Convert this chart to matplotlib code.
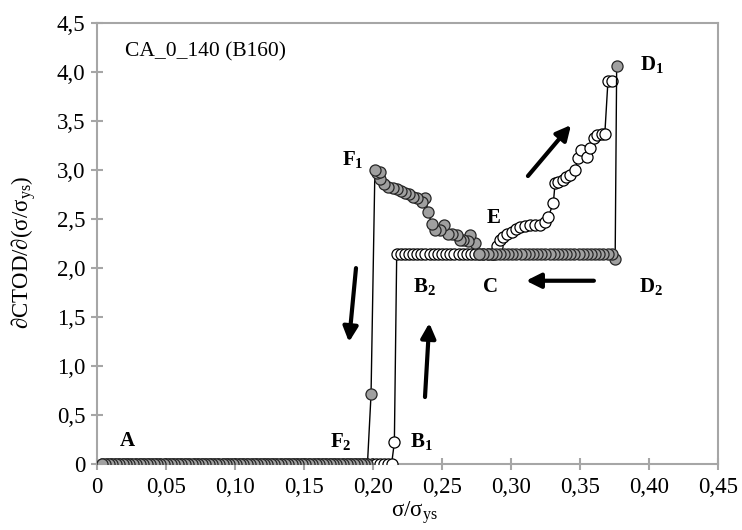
import matplotlib
matplotlib.use("Agg")
import matplotlib.pyplot as plt
from matplotlib.ticker import FuncFormatter, MultipleLocator

plt.rcParams['font.family'] = ['Liberation Serif', 'DejaVu Serif']
plt.rcParams['mathtext.fontset'] = 'custom'
plt.rcParams['mathtext.rm'] = 'Liberation Serif'
plt.rcParams['mathtext.it'] = 'Liberation Serif:italic'
plt.rcParams['mathtext.bf'] = 'Liberation Serif:bold'

# loading branch (open circles): A -> B1 -> B2 -> C -> E -> D1
load_zero_x = [0.004, 0.007, 0.010, 0.013, 0.016, 0.019, 0.022, 0.025, 0.028, 0.031,
               0.034, 0.037, 0.040, 0.043, 0.046, 0.049, 0.052, 0.055, 0.058, 0.061,
               0.064, 0.067, 0.070, 0.073, 0.076, 0.079, 0.082, 0.085, 0.088, 0.091,
               0.094, 0.097, 0.100, 0.103, 0.106, 0.109, 0.112, 0.115, 0.118, 0.121,
               0.124, 0.127, 0.130, 0.133, 0.136, 0.139, 0.142, 0.145, 0.148, 0.151,
               0.154, 0.157, 0.160, 0.163, 0.166, 0.169, 0.172, 0.175, 0.178, 0.181,
               0.184, 0.187, 0.190, 0.193, 0.196, 0.199, 0.202, 0.205, 0.208, 0.211,
               0.2135]
load_zero_y = 0.0
load_b1 = (0.2155, 0.22)
load_plateau_x = [0.2172, 0.220, 0.223, 0.226, 0.229, 0.232, 0.235, 0.238, 0.241, 0.244,
                  0.247, 0.250, 0.253, 0.256, 0.259, 0.262, 0.265, 0.268, 0.271, 0.274,
                  0.277, 0.280, 0.283, 0.286, 0.288]
plateau_y = 2.14
load_rise_x = [0.2900, 0.2920, 0.2944, 0.2969, 0.3005, 0.3036, 0.3065, 0.3100, 0.3138, 0.3174,
               0.3210, 0.3246, 0.3270, 0.3307, 0.3320, 0.3343, 0.3374, 0.3400, 0.3428, 0.3464,
               0.3488, 0.3510, 0.3550, 0.3570, 0.3600, 0.3620, 0.3657, 0.3680, 0.3703, 0.3730]
load_rise_y = [2.22, 2.28, 2.32, 2.35, 2.37, 2.40, 2.42, 2.43, 2.44, 2.44,
               2.44, 2.47, 2.52, 2.66, 2.87, 2.88, 2.90, 2.93, 2.95, 3.00,
               3.12, 3.20, 3.13, 3.22, 3.32, 3.355, 3.365, 3.365, 3.91, 3.91]

# unloading branch (grey circles): D1 -> D2 -> C -> F1 -> F2 -> A
unload_d1 = (0.3766, 4.06)
unload_d2 = (0.3755, 2.09)
unload_plateau_x = [0.373, 0.370, 0.367, 0.364, 0.361, 0.358, 0.355, 0.352, 0.349, 0.346,
                    0.343, 0.340, 0.337, 0.334, 0.331, 0.328, 0.325, 0.322, 0.319, 0.316,
                    0.313, 0.310, 0.307, 0.304, 0.301, 0.298, 0.295, 0.292, 0.289, 0.286,
                    0.283, 0.280, 0.277]
unload_curve_x = [0.2740, 0.2703, 0.2690, 0.2655, 0.2630, 0.2606, 0.2570, 0.2546, 0.2514, 0.2486,
                  0.2450, 0.2425, 0.2400, 0.2377, 0.2353, 0.2320, 0.2292, 0.2263, 0.2232, 0.2200,
                  0.2172, 0.2143, 0.2110, 0.2080, 0.2050, 0.2027, 0.2050, 0.2014]
unload_curve_y = [2.25, 2.335, 2.27, 2.28, 2.28, 2.335, 2.345, 2.35, 2.44, 2.39,
                  2.39, 2.45, 2.57, 2.71, 2.675, 2.71, 2.725, 2.753, 2.766, 2.787,
                  2.80, 2.81, 2.83, 2.855, 2.91, 2.97, 2.98, 3.00]
unload_f = (0.1986, 0.71)
unload_zero_x = [0.196, 0.1935, 0.191, 0.1885, 0.186, 0.1835, 0.181, 0.1785, 0.176, 0.1735,
                 0.171, 0.1685, 0.166, 0.1635, 0.161, 0.1585, 0.156, 0.1535, 0.151, 0.1485,
                 0.146, 0.1435, 0.141, 0.1385, 0.136, 0.1335, 0.131, 0.1285, 0.126, 0.1235,
                 0.121, 0.1185, 0.116, 0.1135, 0.111, 0.1085, 0.106, 0.1035, 0.101, 0.0985,
                 0.096, 0.0935, 0.091, 0.0885, 0.086, 0.0835, 0.081, 0.0785, 0.076, 0.0735,
                 0.071, 0.0685, 0.066, 0.0635, 0.061, 0.0585, 0.056, 0.0535, 0.051, 0.0485,
                 0.046, 0.0435, 0.041, 0.0385, 0.036, 0.0335, 0.031, 0.0285, 0.026, 0.0235,
                 0.021, 0.0185, 0.016, 0.0135, 0.011, 0.0085, 0.006, 0.004]
unload_zero_y = 0.0

# point labels: (text, x, y)
point_labels = [
    ('A', 0.0167, 0.18),
    ('F$_\\mathbf{2}$', 0.1688, 0.173),
    ('B$_\\mathbf{1}$', 0.2268, 0.173),
    ('B$_\\mathbf{2}$', 0.2290, 1.754),
    ('C', 0.2797, 1.754),
    ('D$_\\mathbf{2}$', 0.3928, 1.754),
    ('D$_\\mathbf{1}$', 0.3935, 4.017),
    ('E', 0.2826, 2.457),
    ('F$_\\mathbf{1}$', 0.1775, 3.05),
]
# direction arrows: (tail, head)
path_arrows = [
    ((0.1877, 1.998), (0.1826, 1.244)),
    ((0.2377, 0.683), (0.2408, 1.438)),
    ((0.3601, 1.869), (0.3109, 1.869)),
    ((0.3123, 2.937), (0.3435, 3.457)),
]

load_x = load_zero_x + [load_b1[0]] + load_plateau_x + load_rise_x
load_y = ([load_zero_y] * len(load_zero_x) + [load_b1[1]]
          + [plateau_y] * len(load_plateau_x) + load_rise_y)
unload_x = [unload_d1[0], unload_d2[0]] + unload_plateau_x + unload_curve_x + [unload_f[0]] + unload_zero_x
unload_y = ([unload_d1[1], unload_d2[1]] + [plateau_y] * len(unload_plateau_x)
            + unload_curve_y + [unload_f[1]] + [unload_zero_y] * len(unload_zero_x))

fig = plt.figure(figsize=(7.42, 5.30), dpi=100)
ax = fig.add_axes([0.1307, 0.1245, 0.8369, 0.8326])

ax.plot(load_x, load_y, '-o', color='black', lw=1.0, ms=8,
        mfc='white', mec='black', mew=0.9, zorder=3)
ax.plot(unload_x, unload_y, '-o', color='black', lw=1.0, ms=8,
        mfc='#a0a0a0', mec='#262626', mew=0.9, zorder=4)

for txt, x, y in point_labels:
    ax.text(x, y, txt, fontsize=15, fontweight='bold', ha='left', va='baseline', zorder=5)

for tail, head in path_arrows:
    ax.annotate('', xy=head, xytext=tail,
                arrowprops=dict(arrowstyle='-|>', color='black', lw=3,
                                mutation_scale=22, shrinkA=0, shrinkB=0))

ax.text(0.0203, 4.153, 'CA_0_140 (B160)', fontsize=15.5, ha='left', va='baseline')

ax.set_xlim(0, 0.45)
ax.set_ylim(0, 4.5)
ax.xaxis.set_major_locator(MultipleLocator(0.05))
ax.yaxis.set_major_locator(MultipleLocator(0.5))


def comma_fmt(decimals):
    def fmt(v, pos):
        if abs(v) < 1e-9:
            return '0'
        return f'{v:.{decimals}f}'.replace('.', ',')
    return FuncFormatter(fmt)


ax.xaxis.set_major_formatter(comma_fmt(2))
ax.yaxis.set_major_formatter(comma_fmt(1))

grey = '#a6a6a6'
for side in ['left', 'bottom', 'right', 'top']:
    ax.spines[side].set_color(grey)
    ax.spines[side].set_linewidth(1.5)
ax.tick_params(axis='both', direction='inout', length=9, width=1.5,
               color=grey, labelsize=16.5, labelcolor='black')
ax.tick_params(axis='x', pad=5)
ax.tick_params(axis='y', pad=4)

ax.set_xlabel('σ/σ$_{\\mathrm{ys}}$', fontsize=16.5, va='baseline')
ax.xaxis.set_label_coords(0.5105, -0.12)
ax.set_ylabel('∂CTOD/∂(σ/σ$_{\\mathrm{ys}}$)', fontsize=16.5, va='center')
ax.yaxis.set_label_coords(-0.1176, 0.48)

fig.savefig('out.png', dpi=100)
